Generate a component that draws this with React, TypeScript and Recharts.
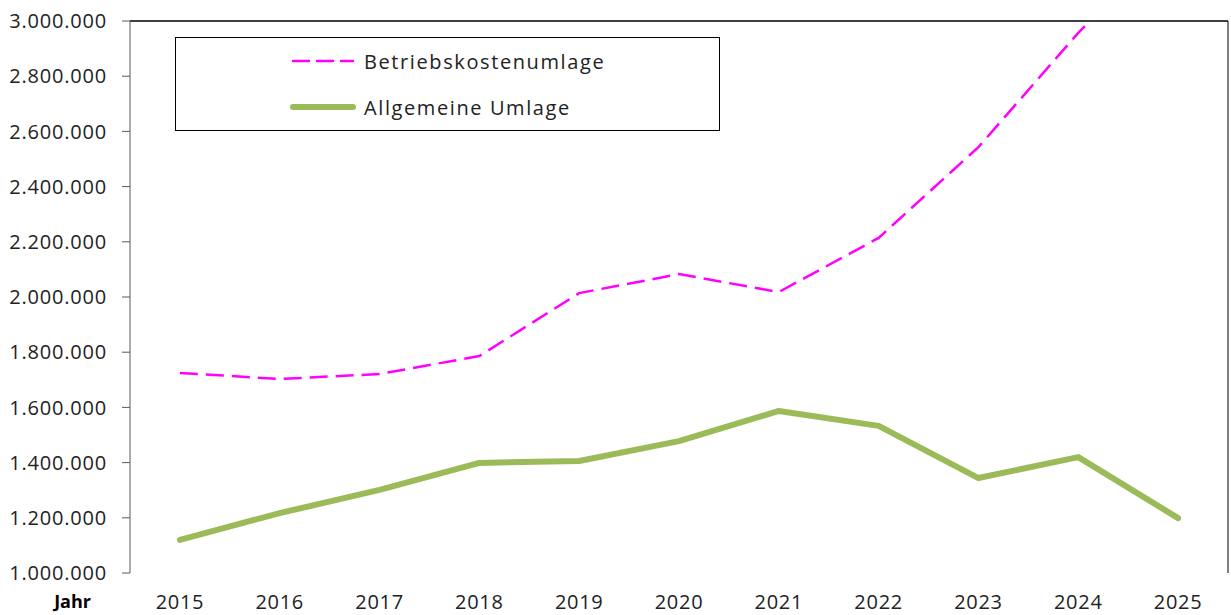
import { LineChart, Line, XAxis, YAxis, Legend, ReferenceLine } from 'recharts'

const years = ['2015', '2016', '2017', '2018', '2019', '2020', '2021', '2022', '2023', '2024', '2025']
const betriebskostenumlage = [1725000, 1703000, 1721000, 1786000, 2014000, 2083000, 2018000, 2214000, 2543000, 2957000, 3320000]
const allgemeineUmlage = [1120000, 1217000, 1301000, 1399000, 1406000, 1478000, 1587000, 1533000, 1344000, 1420000, 1199000]
const yTicks = [1000000, 1200000, 1400000, 1600000, 1800000, 2000000, 2200000, 2400000, 2600000, 2800000, 3000000]

const data = years.map((jahr, i) => ({
  jahr,
  betrieb: betriebskostenumlage[i],
  allgemein: allgemeineUmlage[i],
}))

// tick marks sit between the years, like in Excel
const grenzen = years.map((_, i) => i - 0.5).concat(years.length - 0.5)

const fmt = (v: number) => String(v).replace(/\B(?=(\d{3})+(?!\d))/g, '.')

const font = '"Open Sans", sans-serif'
const textColor = '#222'
const axisColor = '#595959'

const legendItems = [
  { name: 'Betriebskostenumlage', color: '#FF00FF', width: 2.5, dash: '16 8' },
  { name: 'Allgemeine Umlage', color: '#9BBB59', width: 6, dash: undefined },
]

const renderLegend = () => (
  <div
    style={{
      width: 545,
      height: 94,
      border: '1px solid #000',
      boxSizing: 'border-box',
      background: '#fff',
      fontFamily: font,
      fontSize: 20,
      letterSpacing: 1.6,
      color: textColor,
    }}
  >
    {legendItems.map((item) => (
      <div key={item.name} style={{ height: 46, display: 'flex', alignItems: 'center', paddingLeft: 114 }}>
        <svg width={66} height={10} style={{ display: 'block' }}>
          <line
            x1={3}
            x2={63}
            y1={5}
            y2={5}
            stroke={item.color}
            strokeWidth={item.width}
            strokeDasharray={item.dash}
            strokeLinecap="round"
          />
        </svg>
        <span style={{ marginLeft: 8 }}>{item.name}</span>
      </div>
    ))}
  </div>
)

export default function App() {
  return (
    <div style={{ position: 'absolute', left: 0, top: 0, width: 1231, height: 615, background: '#fff' }}>
      <LineChart width={1231} height={615} data={data} margin={{ top: 21, right: 0, bottom: 0, left: 0 }}>
        <XAxis
          xAxisId="grenzen"
          type="number"
          domain={[-0.5, years.length - 0.5]}
          ticks={grenzen}
          tick={false}
          tickSize={7}
          height={0}
          stroke={axisColor}
          allowDataOverflow
        />
        <XAxis
          dataKey="jahr"
          scale="band"
          axisLine={false}
          tickLine={false}
          tickSize={0}
          tickMargin={22}
          height={42}
          tick={{ fill: textColor, fontSize: 20, fontFamily: font, letterSpacing: 0.7 }}
          label={{ value: 'Jahr', position: 'left', offset: 39, dy: 8, fontWeight: 'bold', fontSize: 18, fill: '#000', fontFamily: font }}
        />
        <YAxis
          domain={[1000000, 3000000]}
          ticks={yTicks}
          allowDataOverflow
          width={130}
          tickSize={8}
          tickMargin={15}
          stroke={axisColor}
          tickFormatter={fmt}
          tick={{ fill: textColor, fontSize: 20, fontFamily: font, letterSpacing: 0.8 }}
        />
        <YAxis yAxisId="rechts" orientation="right" domain={[1000000, 3000000]} width={3} tick={false} tickLine={false} stroke="#000" />
        <ReferenceLine y={3000000} stroke="#000" strokeWidth={1.5} />
        <Legend
          layout="horizontal"
          verticalAlign="middle"
          align="center"
          content={renderLegend}
          wrapperStyle={{ position: 'absolute', left: 175, top: 37, width: 545, height: 94 }}
        />
        <Line
          dataKey="betrieb"
          name="Betriebskostenumlage"
          stroke="#FF00FF"
          strokeWidth={2.5}
          strokeDasharray="18 8"
          dot={false}
          activeDot={false}
          isAnimationActive={false}
        />
        <Line
          dataKey="allgemein"
          name="Allgemeine Umlage"
          stroke="#9BBB59"
          strokeWidth={6}
          strokeLinecap="round"
          strokeLinejoin="round"
          dot={false}
          activeDot={false}
          isAnimationActive={false}
        />
      </LineChart>
    </div>
  )
}
